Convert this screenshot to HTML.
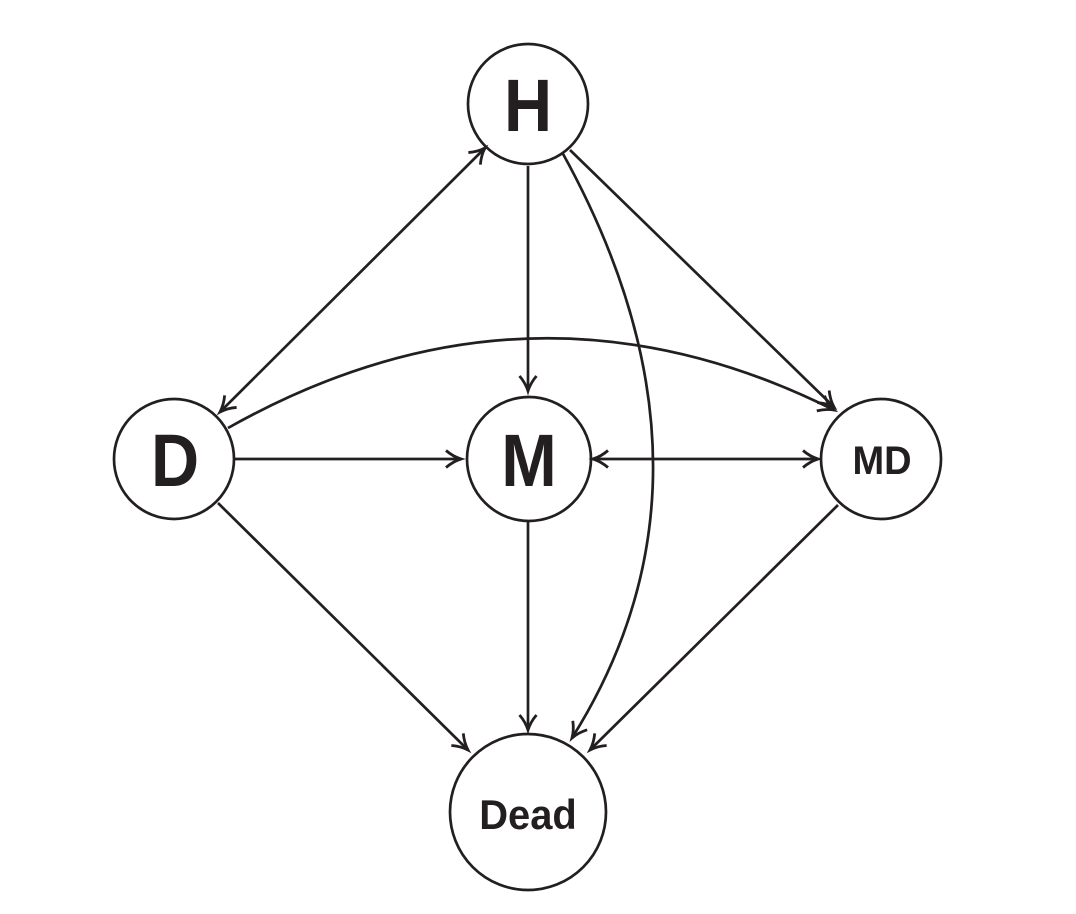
<!DOCTYPE html>
<html><head><style>body{margin:0;background:#fff}svg{display:block}</style></head>
<body>
<svg width="1076" height="914" viewBox="0 0 1076 914" xmlns="http://www.w3.org/2000/svg">
<defs>
<marker id="a" markerWidth="24" markerHeight="24" refX="19" refY="12" orient="auto-start-reverse" markerUnits="userSpaceOnUse">
<path d="M4,3.5 Q11,9.5 19,12 Q11,14.5 4,20.5" fill="none" stroke="#231f20" stroke-width="2.8"/>
</marker>
</defs>
<g stroke="#231f20" stroke-width="2.7" fill="none">
<circle cx="528" cy="104" r="60"/>
<circle cx="174" cy="459" r="60"/>
<circle cx="529" cy="459" r="62"/>
<circle cx="881" cy="459" r="60"/>
<circle cx="528" cy="812" r="78"/>
<line x1="485" y1="148" x2="220" y2="412" marker-start="url(#a)" marker-end="url(#a)"/>
<line x1="528" y1="166" x2="528" y2="391" marker-end="url(#a)"/>
<line x1="570" y1="150" x2="834" y2="407" marker-end="url(#a)"/>
<line x1="235" y1="459" x2="461" y2="459" marker-end="url(#a)"/>
<line x1="593" y1="459" x2="818" y2="459" marker-start="url(#a)" marker-end="url(#a)"/>
<line x1="218" y1="503" x2="468" y2="750" marker-end="url(#a)"/>
<line x1="528" y1="522" x2="528" y2="730" marker-end="url(#a)"/>
<line x1="838" y1="505" x2="590" y2="750" marker-end="url(#a)"/>
<path d="M562,152 Q739,472 572,738" marker-end="url(#a)"/>
<path d="M228,428 Q530,258 834,410" marker-end="url(#a)"/>
</g>
<g font-family="Liberation Sans, sans-serif" font-weight="bold" fill="#231f20" text-anchor="middle">
<text transform="translate(528,131) scale(0.9,1)" font-size="74">H</text>
<text transform="translate(175,486) scale(0.9,1)" font-size="74">D</text>
<text transform="translate(529,486) scale(0.9,1)" font-size="74">M</text>
<text transform="translate(882,474) scale(0.95,1)" font-size="40">MD</text>
<text transform="translate(528,829) scale(0.95,1)" font-size="42">Dead</text>
</g>
</svg>
</body></html>
